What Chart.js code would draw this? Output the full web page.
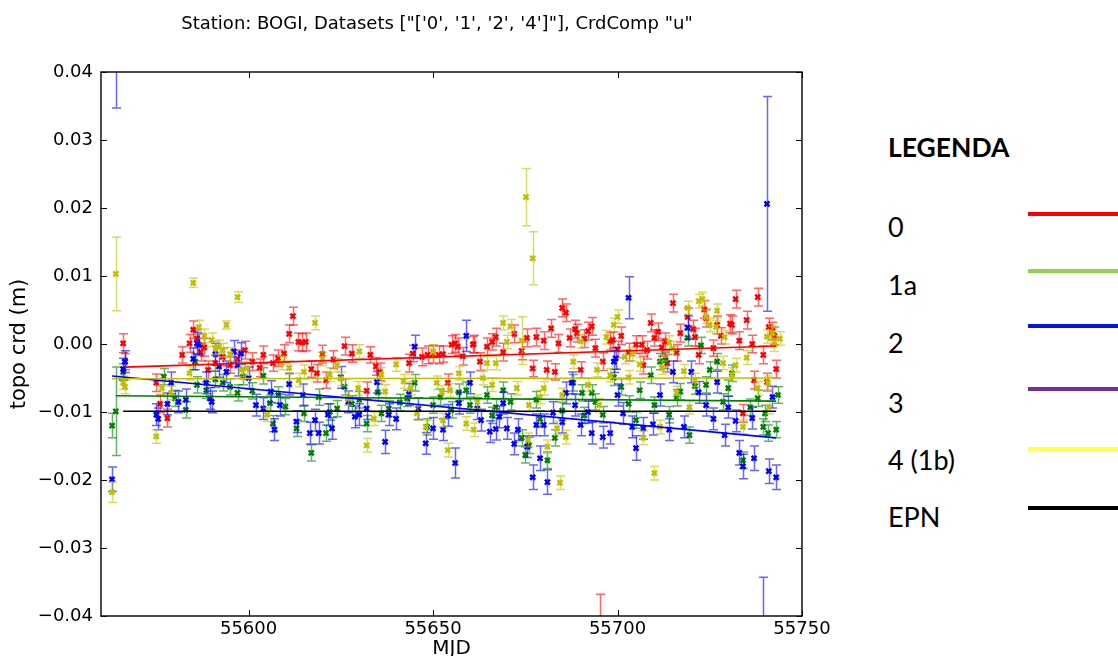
<!DOCTYPE html>
<html><head><meta charset="utf-8">
<script src="https://cdn.jsdelivr.net/npm/chart.js@4.4.1/dist/chart.umd.min.js"></script>
<style>
html,body{margin:0;padding:0;background:#fff;}
#wrap{position:relative;width:1118px;height:656px;overflow:hidden;background:#fff;}
#chartBox{position:absolute;left:0;top:0;width:874px;height:656px;}
#title{position:absolute;left:0;top:13px;width:874px;text-align:center;font-family:'DejaVu Sans';font-size:18px;line-height:20px;color:#000;white-space:pre;}
.lg{position:absolute;left:888px;font-family:Lato,'Open Sans',sans-serif;font-size:27px;line-height:1;color:#000;white-space:pre;}
.lgh{font-weight:bold;font-size:26.5px;}
.ln{position:absolute;left:1028px;width:90px;height:4px;}
</style></head>
<body>
<div id="wrap">
  <div id="chartBox"><canvas id="c" width="874" height="656"></canvas></div>
  <div id="title"></div>
  <div id="legend"></div>
</div>
<script>
// ---------------- data ----------------
const chartTitle = 'Station: BOGI, Datasets ["[\'0\', \'1\', \'2\', \'4\']"], CrdComp "u"';
const xAxisLabel = 'MJD';
const yAxisLabel = 'topo crd (m)';
const xTickVals = [55600, 55650, 55700, 55750];

// dataset '0' (red)
const s0Mjd = [55566,55566.5,55575,55576,55578,55582,55584,55585,55589,55591,
  55601,55604,55606.6,55609.6,55611,55612,55613.5,55614.5,55615.5,55617,
  55618.5,55620,55621,55623,55626,55628,55632,55633,55634.5,55635.6,
  55643.5,55644.5,55647,55648.5,55650,55651.5,55652.7,55654,55655,55656,
  55656.7,55660.8,55661,55662.7,55664.6,55667,55675.4,55677,55678,55680,
  55680.8,55682,55683,55684,55685,55686,55687,55688.5,55689,55690,
  55692,55693,55694,55695.2,55696,55698,55698.7,55703,55705,55706.6,
  55707,55708,55709,55710,55711,55713,55713.5,55715,55716,55717,
  55720.5,55722,55723.5,55724,55726,55727,55730.5,55731,55732,55734,
  55736.5,55737,55738,55739.5,55740.5,55742,55742.5,55743,
  55587,55593,55595,55597,55599,55603,55608,
  55586,55588,55658,55666,55669,55672,55674,55691,55700,55701,
  55712,55719,55721,55728,55733,55735,55741];
const s0Val = [0.0001,-0.0026,-0.0057,-0.0088,-0.0109,-0.0016,0.0001,0.0021,-0.0038,-0.0028,
  -0.0026,-0.0016,-0.0028,-0.0014,0.0015,0.0041,0.0003,0.0002,0.0003,-0.0037,
  -0.0043,-0.0015,-0.0053,-0.0023,-0.0003,-0.0014,-0.0069,-0.0016,-0.0033,-0.0041,
  -0.0028,-0.0014,-0.0019,-0.0016,-0.0015,-0.0016,-0.0015,-0.0057,-0.0001,0.0001,
  -0.0004,-0.0001,0.0000,-0.0026,-0.0004,0.0010,0.0009,-0.0036,0.0010,0.0005,
  -0.0038,0.0023,-0.0041,0.0001,0.0053,0.0046,0.0009,0.0022,0.0016,-0.0038,
  0.0019,0.0026,-0.0006,-0.0425,-0.0026,0.0004,0.0006,-0.0012,-0.0001,-0.0001,
  -0.0031,-0.0009,0.0031,0.0009,0.0018,0.0003,-0.0028,0.0060,-0.0013,0.0016,
  0.0022,-0.0016,0.0051,0.0038,-0.0006,0.0028,0.0030,0.0028,0.0066,-0.0102,
  0.0000,-0.0053,0.0069,-0.0016,-0.0056,0.0019,0.0012,-0.0037,
  -0.0012,-0.0019,-0.0031,-0.0022,-0.0009,-0.0035,-0.0021,
  0.0008,-0.0005,-0.0018,0.0003,-0.0012,0.0015,-0.0010,0.0008,-0.0008,0.0012,
  -0.0005,0.0040,0.0010,0.0012,0.0005,0.0035,0.0025];
const s0Err = [0.0014,0.0012,0.0013,0.0013,0.0013,0.0012,0.0013,0.0013,0.0013,0.0012,
  0.0013,0.0013,0.0012,0.0013,0.0013,0.0013,0.0013,0.0013,0.0013,0.0012,
  0.0013,0.0013,0.0012,0.0013,0.0013,0.0013,0.0013,0.0012,0.0013,0.0013,
  0.0013,0.0012,0.0013,0.0013,0.0013,0.0013,0.0012,0.0013,0.0013,0.0013,
  0.0013,0.0012,0.0013,0.0013,0.0013,0.0013,0.0013,0.0012,0.0013,0.0013,
  0.0013,0.0013,0.0012,0.0013,0.0013,0.0013,0.0013,0.0013,0.0013,0.0012,
  0.0013,0.0013,0.0013,0.0057,0.0013,0.0013,0.0012,0.0013,0.0013,0.0013,
  0.0013,0.0013,0.0013,0.0012,0.0013,0.0013,0.0013,0.0013,0.0012,0.0013,
  0.0013,0.0013,0.0013,0.0013,0.0012,0.0013,0.0013,0.0013,0.0013,0.0013,
  0.0013,0.0013,0.0013,0.0013,0.0013,0.0013,0.0013,0.0013,
  0.0013,0.0013,0.0012,0.0013,0.0013,0.0013,0.0012,
  0.0013,0.0013,0.0013,0.0012,0.0013,0.0013,0.0013,0.0013,0.0012,0.0013,
  0.0013,0.0013,0.0013,0.0012,0.0013,0.0013,0.0013];

// dataset '1' (green)
const s1Mjd = [55563,55564,55566,55577,55580,55583,55585.5,55588.5,55591,55593,
  55595,55598.5,55601,55604,55605.8,55606.6,55610,55613,55615,55617,
  55619,55621,55624,55626,55628,55630,55632,55635,55638,55641,
  55645,55648.4,55650,55652,55655,55657,55660,55664.6,55667,55669,
  55671,55674,55675,55676,55678,55681,55683,55685,55688,55690.4,
  55691,55693,55696,55699,55701,55703,55705,55706,55709,55711.5,
  55713,55714,55716,55719,55719.5,55721,55722.6,55724,55725,55727,
  55728.6,55731,55734,55736,55739.5,55740,55740.8,55743,55743.5,
  55586,55597,55608,55622,55636,55643,55659,55666,55679,55694,
  55710,55717,55730,55738];
const s1Val = [-0.0120,-0.0099,-0.0041,-0.0048,-0.0080,-0.0097,-0.0026,-0.0068,-0.0052,-0.0057,
  -0.0063,-0.0048,-0.0069,-0.0047,-0.0087,-0.0117,-0.0092,-0.0124,-0.0102,-0.0160,
  -0.0078,-0.0131,-0.0095,-0.0063,-0.0088,-0.0082,-0.0117,-0.0071,-0.0095,-0.0086,
  -0.0057,-0.0122,-0.0090,-0.0078,-0.0097,-0.0071,-0.0090,-0.0075,-0.0093,-0.0068,
  -0.0085,-0.0138,-0.0163,-0.0149,-0.0082,-0.0171,-0.0138,-0.0098,-0.0057,-0.0072,
  -0.0105,-0.0072,-0.0104,-0.0049,-0.0063,-0.0088,-0.0112,-0.0068,-0.0046,-0.0026,
  -0.0024,-0.0104,-0.0079,0.0009,-0.0134,-0.0062,-0.0002,-0.0060,-0.0038,-0.0026,
  -0.0085,-0.0043,-0.0171,-0.0093,-0.0122,-0.0102,-0.0131,-0.0126,-0.0075,
  -0.0060,-0.0072,-0.0075,-0.0100,-0.0102,-0.0080,-0.0068,-0.0105,-0.0110,-0.0085,
  -0.0090,-0.0070,-0.0065,-0.0080];
const s1Err = [0.0018,0.0065,0.0012,0.0012,0.0012,0.0012,0.0012,0.0012,0.0012,0.0012,
  0.0012,0.0012,0.0012,0.0012,0.0012,0.0012,0.0012,0.0012,0.0012,0.0012,
  0.0012,0.0012,0.0012,0.0012,0.0012,0.0012,0.0012,0.0012,0.0012,0.0012,
  0.0012,0.0012,0.0012,0.0012,0.0012,0.0012,0.0012,0.0012,0.0012,0.0012,
  0.0012,0.0012,0.0012,0.0012,0.0012,0.0012,0.0012,0.0012,0.0012,0.0012,
  0.0012,0.0012,0.0012,0.0012,0.0012,0.0012,0.0012,0.0012,0.0012,0.0012,
  0.0012,0.0012,0.0012,0.0012,0.0012,0.0012,0.0012,0.0012,0.0012,0.0012,
  0.0012,0.0012,0.0012,0.0012,0.0012,0.0012,0.0012,0.0012,0.0012,
  0.0012,0.0012,0.0012,0.0012,0.0012,0.0012,0.0012,0.0012,0.0012,0.0012,
  0.0012,0.0012,0.0012,0.0012];

// dataset '2' (blue)
const s2Mjd = [55563,55564,55566,55566.5,55575,55575.5,55578,55579,55581,55583,
  55586,55586.6,55588.5,55589.5,55590,55592,55594,55596,55598,55600,
  55602,55606,55607,55608.5,55611,55613,55614.7,55616.6,55618,55619,
  55621.5,55622.6,55625,55628.8,55630,55634.8,55637,55638,55643.5,55645,
  55648,55650,55652.7,55656,55657,55659,55660,55663,55665.4,55668,
  55669,55670,55672,55673,55675.5,55677,55678,55679,55680,55681,
  55682.5,55686,55687.6,55688.5,55690,55693,55696,55698,55699,55699.5,
  55700,55701.5,55703,55704,55705,55707,55709.6,55711.5,55714,55715,
  55718,55719,55720,55722,55724,55726,55727,55729,55730,55732,
  55733,55734,55736.5,55737,55739.5,55740.5,55741,55742,55743,
  55585,55591,55597,55604,55627,55632,55640,55646,55654,55662,
  55667,55685,55692];
const s2Val = [-0.0199,0.0450,-0.0037,-0.0026,-0.0104,-0.0110,-0.0088,-0.0057,-0.0085,-0.0082,
  0.0001,-0.0001,-0.0057,-0.0080,-0.0085,-0.0033,-0.0041,-0.0011,-0.0014,-0.0050,
  -0.0090,-0.0070,-0.0126,-0.0090,-0.0059,-0.0114,-0.0075,-0.0131,-0.0112,-0.0131,
  -0.0104,-0.0124,-0.0049,-0.0107,-0.0104,-0.0056,-0.0144,-0.0104,-0.0074,-0.0004,
  -0.0146,-0.0124,-0.0126,-0.0175,-0.0087,0.0012,-0.0057,-0.0112,-0.0129,-0.0107,
  -0.0087,-0.0124,-0.0147,-0.0126,-0.0151,-0.0196,-0.0119,-0.0168,-0.0119,-0.0203,
  -0.0101,-0.0072,-0.0057,-0.0090,-0.0119,-0.0131,-0.0137,-0.0131,-0.0026,-0.0021,
  -0.0075,-0.0102,0.0068,-0.0122,-0.0153,-0.0124,-0.0118,-0.0075,-0.0126,-0.0041,
  -0.0122,0.0024,-0.0041,-0.0071,-0.0090,-0.0110,-0.0056,-0.0134,-0.0093,-0.0113,
  -0.0160,-0.0180,-0.0109,-0.0168,-0.0460,0.0206,-0.0187,-0.0078,-0.0196,
  -0.0022,-0.0015,-0.0031,-0.0095,-0.0085,-0.0095,-0.0110,-0.0095,-0.0105,-0.0095,
  -0.0125,-0.0115,-0.0100];
const s2Err = [0.0018,0.0103,0.0016,0.0016,0.0016,0.0016,0.0016,0.0016,0.0016,0.0016,
  0.0016,0.0016,0.0016,0.0016,0.0016,0.0016,0.0016,0.0016,0.0016,0.0016,
  0.0016,0.0016,0.0016,0.0016,0.0016,0.0016,0.0016,0.0016,0.0016,0.0016,
  0.0016,0.0016,0.0016,0.0016,0.0016,0.0016,0.0017,0.0016,0.0016,0.0017,
  0.0016,0.0016,0.0016,0.0022,0.0016,0.0023,0.0016,0.0016,0.0016,0.0016,
  0.0016,0.0016,0.0016,0.0016,0.0016,0.0018,0.0016,0.0018,0.0016,0.0018,
  0.0016,0.0016,0.0016,0.0016,0.0016,0.0016,0.0016,0.0016,0.0016,0.0016,
  0.0016,0.0016,0.0031,0.0016,0.0018,0.0016,0.0016,0.0016,0.0016,0.0016,
  0.0016,0.0017,0.0016,0.0016,0.0016,0.0016,0.0016,0.0016,0.0016,0.0016,
  0.0018,0.0018,0.0016,0.0018,0.0117,0.0158,0.0018,0.0016,0.0018,
  0.0016,0.0016,0.0016,0.0016,0.0016,0.0016,0.0016,0.0016,0.0016,0.0016,
  0.0016,0.0016,0.0016];

// dataset '4' (yellow)
const s4Mjd = [55563,55564,55566,55566.5,55575,55576.5,55579,55584,55585,55586.5,
  55591,55592,55593,55594,55597,55598,55599.5,55605,55609,55613.6,
  55615,55618,55624,55625,55627,55629.7,55630,55632,55634,55637,
  55645.6,55648,55650,55651,55652.4,55652.7,55654,55654.6,55657,55659,
  55661,55663.5,55664.6,55667,55669,55670,55671,55672.7,55674,55675.2,
  55675.7,55677,55679,55680,55681,55683.6,55684.4,55686,55688,55690,
  55694.4,55697,55698,55699,55700,55702,55703,55707,55710,55711.5,
  55715,55716,55719,55719.5,55721,55722,55723,55725,55726.7,55727,
  55728.6,55732,55734,55740.5,55740.8,55741,55742,55742.5,
  55588,55590,55595,55611,55620,55622,55636,55640,55642,55644,
  55662,55666,55676,55685,55692,55695,55704,55706,55712,55714,
  55718,55724,55729,55731,55735,55738,55744];
const s4Val = [-0.0218,0.0103,-0.0057,-0.0063,-0.0136,-0.0065,-0.0072,-0.0043,0.0090,0.0025,
  -0.0006,-0.0004,-0.0009,0.0028,0.0069,-0.0038,-0.0036,-0.0104,-0.0028,-0.0053,
  -0.0041,0.0031,-0.0031,-0.0051,-0.0080,-0.0065,-0.0011,-0.0149,-0.0110,-0.0070,
  -0.0102,-0.0122,-0.0011,-0.0057,-0.0071,-0.0112,-0.0156,-0.0068,-0.0043,-0.0117,
  -0.0126,-0.0050,-0.0028,-0.0028,0.0031,0.0003,0.0026,-0.0065,0.0005,0.0216,
  -0.0141,0.0126,-0.0078,-0.0065,-0.0151,-0.0124,-0.0204,-0.0137,-0.0026,0.0004,
  -0.0038,0.0010,-0.0046,0.0028,0.0040,-0.0019,-0.0049,-0.0138,-0.0190,-0.0122,
  -0.0006,-0.0072,0.0053,-0.0093,-0.0053,0.0063,0.0066,0.0028,0.0025,0.0049,
  -0.0028,-0.0031,-0.0122,0.0011,-0.0057,-0.0093,0.0016,-0.0001,
  0.0012,0.0006,-0.0015,-0.0035,-0.0022,-0.0045,-0.0045,-0.0030,-0.0055,-0.0065,
  -0.0085,-0.0060,-0.0090,-0.0075,-0.0060,-0.0090,-0.0015,-0.0030,-0.0035,0.0002,
  -0.0040,0.0040,0.0010,-0.0045,-0.0020,-0.0065,0.0008];
const s4Err = [0.0015,0.0054,0.0010,0.0010,0.0010,0.0010,0.0010,0.0010,0.0007,0.0010,
  0.0010,0.0010,0.0010,0.0006,0.0008,0.0010,0.0010,0.0010,0.0010,0.0010,
  0.0010,0.0010,0.0010,0.0010,0.0010,0.0010,0.0010,0.0010,0.0010,0.0010,
  0.0010,0.0010,0.0010,0.0010,0.0010,0.0010,0.0010,0.0010,0.0010,0.0010,
  0.0010,0.0010,0.0010,0.0010,0.0010,0.0010,0.0010,0.0010,0.0035,0.0042,
  0.0010,0.0039,0.0010,0.0010,0.0010,0.0010,0.0010,0.0010,0.0010,0.0010,
  0.0010,0.0010,0.0010,0.0010,0.0010,0.0010,0.0010,0.0010,0.0010,0.0010,
  0.0010,0.0010,0.0010,0.0010,0.0010,0.0010,0.0010,0.0010,0.0010,0.0010,
  0.0010,0.0010,0.0010,0.0010,0.0010,0.0010,0.0010,0.0010,
  0.0010,0.0010,0.0010,0.0010,0.0010,0.0010,0.0010,0.0010,0.0010,0.0010,
  0.0010,0.0010,0.0010,0.0010,0.0010,0.0010,0.0010,0.0010,0.0010,0.0010,
  0.0010,0.0010,0.0010,0.0010,0.0010,0.0010,0.0010];

// fitted trend lines (end points)
const fit0Mjd = [55566.5, 55743]; const fit0Val = [-0.0034, -0.0003];
const fit1Mjd = [55564, 55743];   const fit1Val = [-0.0076, -0.0084];
const fit2Mjd = [55563, 55743];   const fit2Val = [-0.0047, -0.0138];
const fit4Mjd = [55563, 55743];   const fit4Val = [-0.0051, -0.0050];
const epnMjd  = [55566, 55743];   const epnVal  = [-0.0099, -0.0099];

// side legend
const legendTitle = 'LEGENDA';
const legendLabels = ['0', '1a', '2', '3', '4 (1b)', 'EPN'];
const legendColors = ['#ff0000', '#92d050', '#0a14e0', '#7030a0', '#ffff50', '#000000'];

// ---------------- build ----------------
function pts(xs, ys) { return xs.map((x, i) => ({x: x, y: ys[i]})); }
[[s0Mjd,s0Val,s0Err],[s1Mjd,s1Val,s1Err],[s2Mjd,s2Val,s2Err],[s4Mjd,s4Val,s4Err]].forEach((a,k)=>{
  if (a[0].length !== a[1].length || a[0].length !== a[2].length) console.error('length mismatch in series', k, a[0].length, a[1].length, a[2].length);
});

document.getElementById('title').textContent = chartTitle;
const lgBox = document.getElementById('legend');
(function () {
  const h = document.createElement('div');
  h.className = 'lg lgh'; h.style.top = '134px'; h.textContent = legendTitle; lgBox.appendChild(h);
  const textTops = [213, 271, 329, 389, 446, 503];
  const lineTops = [212, 269, 324, 387, 447, 506];
  legendLabels.forEach((t, i) => {
    const d = document.createElement('div');
    d.className = 'lg'; d.style.top = textTops[i] + 'px'; d.textContent = t; lgBox.appendChild(d);
    const l = document.createElement('div');
    l.className = 'ln'; l.style.top = lineTops[i] + 'px'; l.style.background = legendColors[i]; lgBox.appendChild(l);
  });
})();

const errorBarPlugin = {
  id: 'errbars',
  beforeDatasetDraw(chart, args) {
    const ds = chart.data.datasets[args.index];
    if (!ds.errors) return;
    const ctx = chart.ctx, xs = chart.scales.x, ys = chart.scales.y, a = chart.chartArea;
    ctx.save();
    ctx.beginPath(); ctx.rect(a.left, a.top, a.right - a.left, a.bottom - a.top); ctx.clip();
    ctx.strokeStyle = ds.errorColor; ctx.lineWidth = 1.5;
    ds.data.forEach((p, i) => {
      const e = ds.errors[i];
      const px = Math.round(xs.getPixelForValue(p.x)) + 0.5;
      const y1 = ys.getPixelForValue(p.y + e), y2 = ys.getPixelForValue(p.y - e);
      ctx.beginPath();
      ctx.moveTo(px, y1); ctx.lineTo(px, y2);
      ctx.moveTo(px - 4.5, y1); ctx.lineTo(px + 4.5, y1);
      ctx.moveTo(px - 4.5, y2); ctx.lineTo(px + 4.5, y2);
      ctx.stroke();
    });
    ctx.restore();
  }
};

const framePlugin = {
  id: 'frame',
  afterDraw(chart) {
    const ctx = chart.ctx, a = chart.chartArea, xs = chart.scales.x, ys = chart.scales.y;
    ctx.save();
    ctx.strokeStyle = '#000'; ctx.lineWidth = 1;
    const L = 6;
    ctx.beginPath();
    xs.ticks.forEach(t => {
      const px = Math.round(xs.getPixelForValue(t.value)) + 0.5;
      ctx.moveTo(px, a.bottom); ctx.lineTo(px, a.bottom - L);
      ctx.moveTo(px, a.top); ctx.lineTo(px, a.top + L);
    });
    ys.ticks.forEach(t => {
      const py = Math.round(ys.getPixelForValue(t.value)) + 0.5;
      ctx.moveTo(a.left, py); ctx.lineTo(a.left + L, py);
      ctx.moveTo(a.right, py); ctx.lineTo(a.right - L, py);
    });
    ctx.stroke();
    ctx.lineWidth = 1.5; ctx.strokeStyle = '#111';
    ctx.strokeRect(a.left, a.top, a.right - a.left, a.bottom - a.top);
    ctx.restore();
  }
};

function scat(xs, ys, es, col, ecol, ord) {
  return { type: 'scatter', data: pts(xs, ys), errors: es, errorColor: ecol,
    pointStyle: 'crossRot', pointRadius: 3.5, pointBorderWidth: 2.5, borderColor: col, backgroundColor: col,
    pointHoverRadius: 3.5, order: ord };
}
function fit(xs, ys, col, ord) {
  return { type: 'line', data: pts(xs, ys), borderColor: col, borderWidth: 1.6, pointRadius: 0,
    fill: false, tension: 0, order: ord };
}
function fmtY(v) {
  if (Math.abs(v) < 1e-9) return '0.00';
  return (v < 0 ? '\u2212' : '') + Math.abs(v).toFixed(2);
}

new Chart(document.getElementById('c'), {
  type: 'scatter',
  data: { datasets: [
    scat(s0Mjd, s0Val, s0Err, 'rgb(255,0,0)', 'rgba(255,0,0,0.6)', 8),
    scat(s1Mjd, s1Val, s1Err, 'rgb(0,128,0)', 'rgba(0,128,0,0.6)', 7),
    scat(s2Mjd, s2Val, s2Err, 'rgb(0,0,255)', 'rgba(0,0,255,0.6)', 6),
    scat(s4Mjd, s4Val, s4Err, 'rgb(191,191,0)', 'rgba(191,191,0,0.6)', 5),
    fit(fit0Mjd, fit0Val, 'rgb(255,0,0)', 4),
    fit(fit1Mjd, fit1Val, 'rgb(0,128,0)', 3),
    fit(fit2Mjd, fit2Val, 'rgb(0,0,255)', 2),
    fit(fit4Mjd, fit4Val, 'rgb(191,191,0)', 1),
    fit(epnMjd, epnVal, '#000000', 0)
  ]},
  options: {
    responsive: false, animation: false,
    layout: { padding: { top: 72, right: 72, left: 0, bottom: 0 } },
    plugins: { legend: { display: false }, tooltip: { enabled: false }, title: { display: false } },
    scales: {
      x: { type: 'linear', min: 55560, max: 55750,
        grid: { display: false, drawTicks: false }, border: { display: false },
        afterBuildTicks: s => { s.ticks = xTickVals.map(v => ({ value: v })); },
        afterFit: s => { s.height = 40; },
        ticks: { font: { family: 'DejaVu Sans', size: 18 }, color: '#000', padding: 3,
          maxRotation: 0, autoSkip: false, callback: v => String(v) },
        title: { display: true, text: xAxisLabel, font: { family: 'DejaVu Sans', size: 20, lineHeight: 1 },
          color: '#000', padding: { top: 0, bottom: -3 } } },
      y: { min: -0.04, max: 0.04,
        grid: { display: false, drawTicks: false }, border: { display: false },
        afterFit: s => { s.width = 101; },
        ticks: { stepSize: 0.01, font: { family: 'DejaVu Sans', size: 18 }, color: '#000', padding: 8,
          callback: v => fmtY(v) },
        title: { display: true, text: yAxisLabel, font: { family: 'DejaVu Sans', size: 21, lineHeight: 1.2 },
          color: '#000', padding: { top: 7, bottom: 0 } } }
    }
  },
  plugins: [errorBarPlugin, framePlugin]
});
</script>
</body></html>
